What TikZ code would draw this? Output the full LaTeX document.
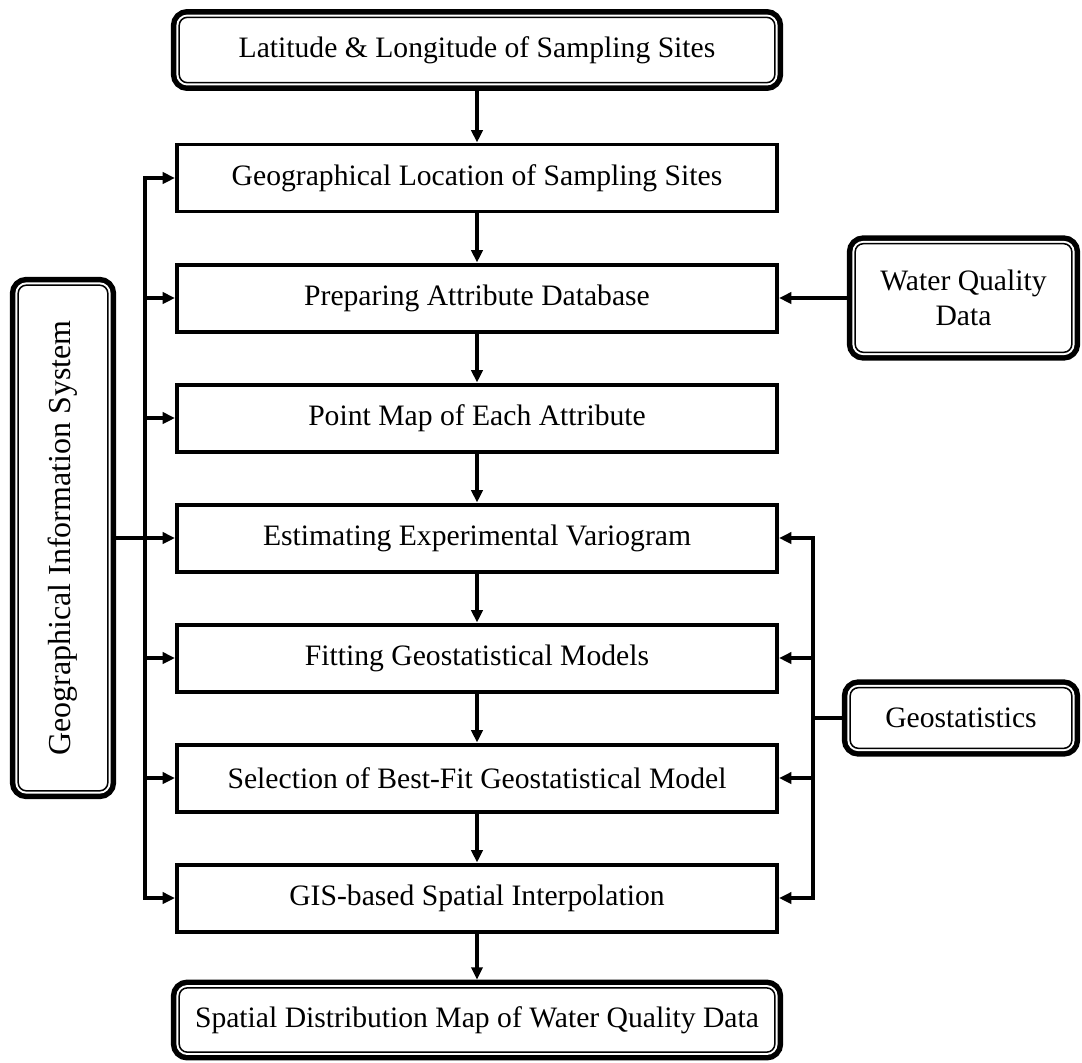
\documentclass[tikz,border=0pt]{standalone}
\usepackage{fontspec}
\setmainfont{Liberation Serif}
\usepackage{tikz}
\usetikzlibrary{arrows.meta,positioning,calc}

\begin{document}
\begin{tikzpicture}[x=0.3cm,y=0.3cm,>={Triangle[length=10.5pt,width=9.5pt]},
    every node/.style={font=\fontsize{25.3}{30}\selectfont,align=center,inner sep=0pt},
    procbox/.style={draw,line width=3.4pt,minimum width=18cm,minimum height=2.01cm},
    framebox/.style={rounded corners=7pt,
      preaction={draw,line width=14.1pt},
      preaction={draw=white,line width=4.7pt},
      fill=white,draw,line width=1.3pt,outer sep=7.05pt},
    link/.style={line width=2.6pt}]
  \useasboundingbox (0,0) rectangle (108.2,-106.2);
  \node[framebox,minimum width=17.87cm,minimum height=1.96cm] (sites) at (47.7,-5.0)
      {Latitude \& Longitude of Sampling Sites};
  \node[procbox] (loc) at (47.7,-17.8) {Geographical Location of Sampling Sites};
  \node[procbox] (prep) at (47.7,-29.8) {Preparing Attribute Database};
  \node[procbox] (pmap) at (47.7,-41.8) {Point Map of Each Attribute};
  \node[procbox] (est) at (47.7,-53.8) {Estimating Experimental Variogram};
  \node[procbox] (fit) at (47.7,-65.8) {Fitting Geostatistical Models};
  \node[procbox] (sel) at (47.7,-77.8) {Selection of Best-Fit Geostatistical Model};
  \node[procbox] (interp) at (47.7,-89.8) {GIS-based Spatial Interpolation};
  \node[framebox,minimum width=17.87cm,minimum height=1.93cm] (distmap) at (47.7,-102.0)
      {Spatial Distribution Map of Water Quality Data};
  \node[framebox,rotate=90,minimum width=15.17cm,minimum height=2.69cm,
      font=\fontsize{27.3}{32}\selectfont] (gis) at (6.3,-53.8)
      {Geographical Information System};
  \node[framebox,minimum width=6.5cm,minimum height=3.26cm] (wq) at (96.35,-29.8)
      {Water Quality\\Data};
  \node[framebox,minimum width=6.65cm,minimum height=1.82cm] (geo) at (96.1,-71.8)
      {Geostatistics};
  \coordinate (lbus) at (14.5,0);
  \coordinate (rbus) at (81.3,0);
  \foreach \a/\b in {sites/loc,loc/prep,prep/pmap,pmap/est,est/fit,fit/sel,sel/interp,interp/distmap}
    \draw[link,->] (\a.south) -- (\b.north);
  \draw[link,->] (wq.west) -- (prep.east);
  \draw[link,->] (gis.south) -- (est.west);
  \foreach \b in {loc,prep,pmap,fit,sel,interp}
    \draw[link,->] (lbus |- est.west) |- (\b.west);
  \draw[link] (geo.west) -- (rbus |- geo.west);
  \foreach \b in {est,fit,sel,interp}
    \draw[link,->] (rbus |- geo.west) |- (\b.east);
\end{tikzpicture}
\end{document}
